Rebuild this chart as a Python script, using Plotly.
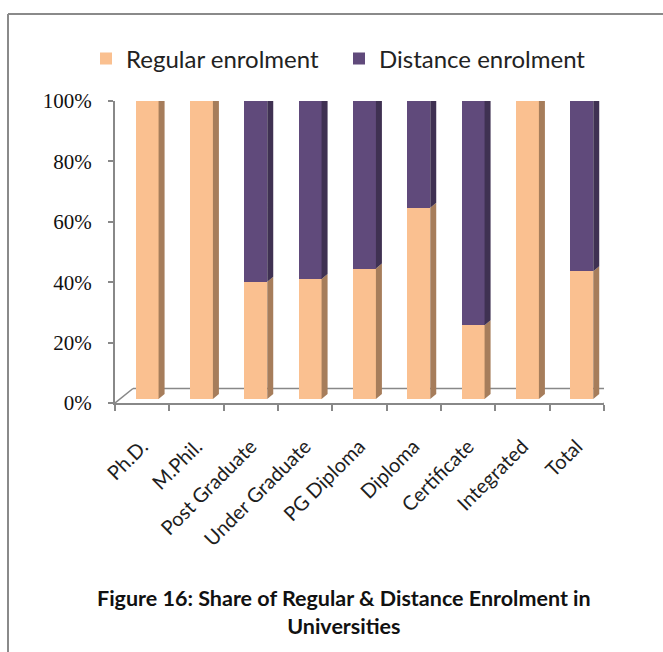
import plotly.graph_objects as go

categories = ["Ph.D.", "M.Phil.", "Post Graduate", "Under Graduate", "PG Diploma",
              "Diploma", "Certificate", "Integrated", "Total"]
regular = [100.0, 100.0, 38.8, 39.7, 43.2, 63.3, 24.4, 99.6, 42.3]
distance = [0.0, 0.0, 61.2, 60.3, 56.8, 36.7, 75.6, 0.4, 57.7]
y_ticks = [0, 20, 40, 60, 80, 100]
y_tick_labels = ["0%", "20%", "40%", "60%", "80%", "100%"]

W, H = 663, 652
ML, MR, MT, MB = 115, 59, 101, 249
PW, PH = W - ML - MR, H - MT - MB
n = len(categories)
xu = PW / n          # px per category
yu = PH / 100.0      # px per percent

# 3D geometry (pixels)
shift_x, shift_y = 5, 4      # bar front plane offset from axis plane
bdx, bdy = 6, 5              # bar depth
fdx, fdy = 18, 14.5          # floor depth
bw = 0.42

ORANGE, ORANGE_SIDE, ORANGE_TOP = "#FAC090", "#A67D5B", "#CC9A6E"
PURPLE, PURPLE_SIDE, PURPLE_TOP = "#604A7B", "#3F3152", "#4E3C66"
AXC = "#888888"

fig = go.Figure()
xs = list(range(n))
fig.add_trace(go.Bar(x=xs, y=regular, name="Regular enrolment", marker_color=ORANGE,
                     marker_line_width=0, width=bw, xaxis="x2", yaxis="y2", legend="legend"))
fig.add_trace(go.Bar(x=xs, y=distance, name="Distance enrolment", marker_color=PURPLE,
                     marker_line_width=0, width=bw, xaxis="x2", yaxis="y2", legend="legend2"))

ddx, ddy = bdx / xu, bdy / yu
def side_poly(xc, y0, y1):
    xr = xc + bw / 2
    return [xr, xr + ddx, xr + ddx, xr, xr, None], [y0, y0 + ddy, y1 + ddy, y1, y0, None]
def top_poly(xc, yt):
    xl, xr = xc - bw / 2, xc + bw / 2
    return [xl, xl + ddx, xr + ddx, xr, xl, None], [yt, yt + ddy, yt + ddy, yt, yt, None]

os_x, os_y, ps_x, ps_y = [], [], [], []
ot_x, ot_y, pt_x, pt_y = [], [], [], []
for i in range(n):
    r, d = regular[i], distance[i]
    a, b = side_poly(i, 0, r); os_x += a; os_y += b
    if d > 0:
        a, b = side_poly(i, r, r + d); ps_x += a; ps_y += b
        a, b = top_poly(i, r + d); pt_x += a; pt_y += b
    else:
        a, b = top_poly(i, r); ot_x += a; ot_y += b

for px_, py_, c in [(os_x, os_y, ORANGE_SIDE), (ps_x, ps_y, PURPLE_SIDE),
                    (ot_x, ot_y, ORANGE_TOP), (pt_x, pt_y, PURPLE_TOP)]:
    if px_:
        fig.add_trace(go.Scatter(x=px_, y=py_, mode="lines", fill="toself", fillcolor=c,
                                 line=dict(width=0, color=c), showlegend=False,
                                 hoverinfo="skip", xaxis="x2", yaxis="y2"))

# floor
fx, fy = fdx / xu, fdy / yu
x0, x1 = -0.5, n - 0.5
shapes = [
    dict(type="line", xref="x", yref="y", x0=x0, y0=0, x1=x0 + fx, y1=fy, line=dict(color=AXC, width=1.5), layer="below"),
    dict(type="line", xref="x", yref="y", x0=x0 + fx, y0=fy, x1=x1 + fx, y1=fy, line=dict(color=AXC, width=1.5), layer="below"),
    dict(type="line", xref="x", yref="y", x0=x1, y0=0, x1=x1 + fx, y1=fy, line=dict(color=AXC, width=1.5), layer="below"),
    # outer frame (top and left edges)
    dict(type="line", xref="paper", yref="paper", x0=(8 - ML) / PW, y0=1 + (MT - 14) / PH,
         x1=(W + 5 - ML) / PW, y1=1 + (MT - 14) / PH, line=dict(color="#8A8A8A", width=2)),
    dict(type="line", xref="paper", yref="paper", x0=(8 - ML) / PW, y0=1 + (MT - 14) / PH,
         x1=(8 - ML) / PW, y1=-(MB + 10) / PH, line=dict(color="#8A8A8A", width=2)),
]

legend_common = dict(orientation="h", xanchor="left", yanchor="middle",
                     y=1 + (MT - 59) / PH,
                     font=dict(family="Lato", size=24, color="#222222"),
                     bgcolor="rgba(0,0,0,0)")

sx, sy = shift_x / xu, shift_y / yu
fig.update_layout(
    width=W, height=H, margin=dict(l=ML, r=MR, t=MT, b=MB, autoexpand=False),
    paper_bgcolor="white", plot_bgcolor="rgba(0,0,0,0)",
    barmode="stack", shapes=shapes,
    xaxis=dict(range=[x0, x1], tickvals=xs, ticktext=categories, tickangle=-45,
               ticks="", showgrid=False, zeroline=False, showline=True, automargin=False,
               linecolor=AXC, linewidth=2, ticklabelstandoff=22,
               tickfont=dict(family="Lato", size=20, color="#1e1e1e"),
               minor=dict(tickvals=[k - 0.5 for k in range(n + 1)], ticks="outside",
                          ticklen=6, tickcolor=AXC, tickwidth=2)),
    yaxis=dict(range=[0, 100], tickvals=y_ticks, ticktext=y_tick_labels,
               ticks="outside", ticklen=5, tickcolor=AXC, tickwidth=2, automargin=False,
               showgrid=False, zeroline=False, showline=True, linecolor=AXC, linewidth=2,
               ticklabelstandoff=12,
               tickfont=dict(family="Liberation Serif", size=21, color="#111111")),
    xaxis2=dict(range=[x0 - sx, x1 - sx], overlaying="x", visible=False),
    yaxis2=dict(range=[0 - sy, 100 - sy], overlaying="y", visible=False),
    legend=dict(x=(86 - ML) / PW, **legend_common),
    legend2=dict(x=(339 - ML) / PW, **legend_common),
    annotations=[dict(text="<b>Figure 16: Share of Regular & Distance Enrolment in</b><br><b>Universities</b>",
                      xref="paper", yref="paper", x=(344 - ML) / PW, y=-(612 - (MT + PH)) / PH,
                      xanchor="center", yanchor="middle", showarrow=False,
                      font=dict(family="Lato", size=21.5, color="#111111"))],
)

fig.write_html("out.html", config={"displayModeBar": False},
               post_script="document.body.style.margin='0px';")
